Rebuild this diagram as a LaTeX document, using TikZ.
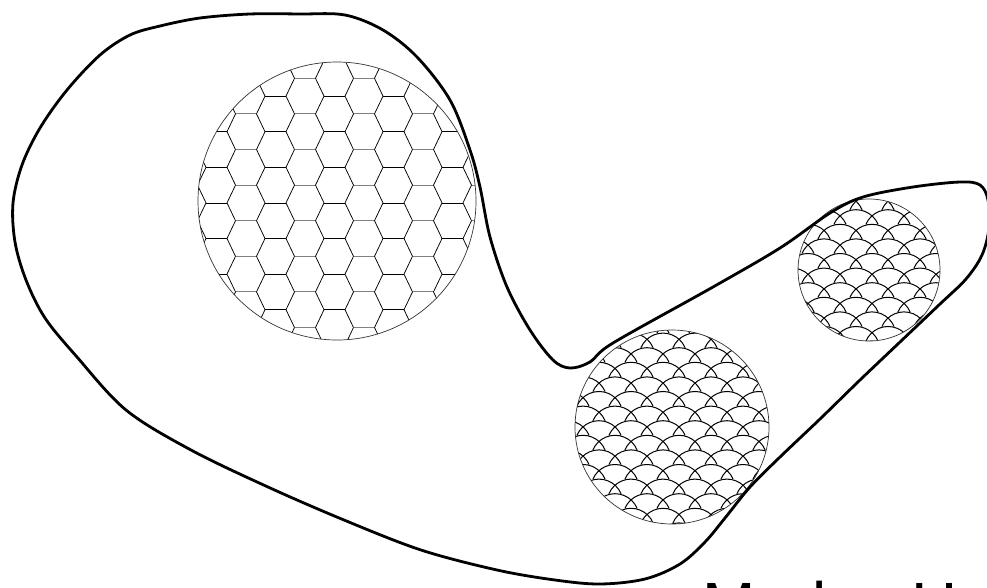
\documentclass[tikz,border=0pt]{standalone}
\usepackage{fontspec}
\setmainfont{Liberation Sans}
\begin{document}
\begin{tikzpicture}[x=1pt,y=-1pt,
  blobline/.style={line width=2.8pt,line join=round},
  hexblack/.style={line width=0.75pt,black},
  hexgray/.style={line width=1pt,black!50},
  scaleline/.style={line width=1pt,black},
  rim/.style={line width=0.7pt,black!80}]
\useasboundingbox[fill=white] (0,0) rectangle (987,587);
\coordinate (hexc) at (337,201);
\coordinate (fishA) at (672,427);
\coordinate (fishB) at (869,270);
% hexagon circle
\begin{scope}
  \clip (hexc) circle (139);
  \foreach \j in {-3,...,4}{
    \foreach \k in {-2,...,8}{
      \draw[hexblack] ({265+59*\j},{96.1+35.6*\k}) -- ++(21,0);
      \draw[hexblack] ({265+59*\j},{96.1+35.6*\k}) -- ++(-8.5,-17.8)
                      ({265+59*\j},{96.1+35.6*\k}) -- ++(-8.5,17.8)
                      ({286+59*\j},{96.1+35.6*\k}) -- ++(8.5,-17.8)
                      ({286+59*\j},{96.1+35.6*\k}) -- ++(8.5,17.8);
      \draw[hexgray] ({294.5+59*\j},{113.9+35.6*\k}) -- ++(21,0);
    }
  }
\end{scope}
\draw[rim] (hexc) circle (139);
% fish scale circle A
\begin{scope}
  \clip (fishA) circle (97);
  \foreach \m in {-4,...,5}{
    \foreach \i in {-4,...,4}{
      \draw[scaleline] ({663+32*\i+22.09},{415.5+29.2*\m-9.38}) arc[start angle=-23,end angle=-157,radius=24];
      \draw[scaleline] ({647+32*\i+22.09},{430.1+29.2*\m-9.38}) arc[start angle=-23,end angle=-157,radius=24];
    }
  }
\end{scope}
\draw[rim] (fishA) circle (97);
% fish scale circle B
\begin{scope}
  \clip (fishB) circle (71);
  \foreach \m in {-3,...,4}{
    \foreach \i in {-3,...,3}{
      \draw[scaleline] ({856+32*\i+22.09},{262.9+29.2*\m-9.38}) arc[start angle=-23,end angle=-157,radius=24];
      \draw[scaleline] ({840+32*\i+22.09},{277.5+29.2*\m-9.38}) arc[start angle=-23,end angle=-157,radius=24];
    }
  }
\end{scope}
\draw[rim] (fishB) circle (71);
% outline
\draw[blobline] plot[smooth cycle,tension=0.55] coordinates {
  (600,584) (645,579) (680,564) (705,542) (725,518) (750,487) (780,457)
  (820,419) (860,380) (900,342) (940,304) (966,279) (982,255) (989,228)
  (988,200) (980,185) (960,182) (913,187) (863,197) (830,213) (780,248)
  (713,287) (613,343) (590,362) (570,368) (553,360) (530,330) (507,287)
  (490,237) (480,187) (470,150) (450,100) (417,57) (383,30) (345,15)
  (300,14) (250,14) (200,18) (160,26) (130,35) (100,55) (67,90) (40,128)
  (22,165) (13,203) (15,242) (26,280) (45,318) (77,357) (126,410)
  (191,450) (268,487) (344,520) (421,550) (497,570) (555,580)};
\node[anchor=base west,inner sep=0pt,font=\fontsize{64}{70}\selectfont] (caption) at (702,627) {Marley H};
\end{tikzpicture}
\end{document}
